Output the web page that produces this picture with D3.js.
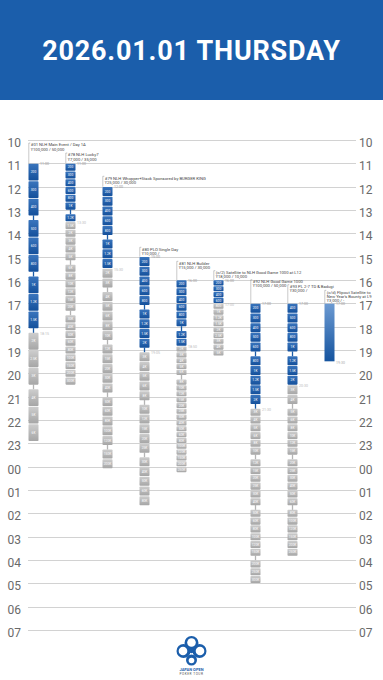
<!DOCTYPE html>
<html>
<head>
<meta charset="utf-8">
<script src="https://cdn.jsdelivr.net/npm/d3@7"></script>
<style>
html, body { margin: 0; padding: 0; background: #fff; }
svg { display: block; }
</style>
</head>
<body>
<div id="chart"></div>
<script>
// day header + hour rows
var dayTitle = '2026.01.01 THURSDAY';
var hourLabels = ['10','11','12','13','14','15','16','17','18','19','20','21','22','23','00','01','02','03','04','05','06','07'];

// events (one column each)
var titles = [
	'#01 NLH Main Event / Day 1A',
	'#78 NLH Lucky7',
	'#79 NLH Whopper+Stack Sponsored by BURGER KING',
	'#80 PLO Single Day',
	'#81 NLH Builder',
	'(c/2) Satellite to NLH Good Game 1000 at L12',
	'#92 NLH Good Game 1000',
	'#93 PL 2-7 TD & Badugi',
	'(c/d) Flipout Satellite to\nNew Year\'s Bounty at L9'
];
var fees = ['¥100,000 / 50,000', '¥7,000 / 35,000', '¥25,000 / 30,000', '¥10,000 /', '¥15,000 / 30,000',
	'¥18,000 / 10,000', '¥100,000 / 50,000', '¥30,000 /', '¥3,000 / -'];
var starts = ['11:00', '11:00', '12:00', '15:00', '16:00', '16:00', '17:00', '17:00', '17:00'];
var lateRegs = ['18:15', '13:30', '15:30', '19:05', '18:50', '17:00', '21:30', '20:30', null];
var flipoutEnd = '19:30';

// @n = level minutes, /n = break minutes, other tokens = blind level
var schedules = [
	'@45 200 300 400 /10 500 600 800 /10 1K 1.2K 1.5K /10 2K 2.5K 3K /10 4K 5K 6K',
	'@20 200 300 400 600 800 1K /10 1.2K 1.5K 2K 3K 4K 5K /10 6K 8K 10K 12K 15K 20K /10 30K 40K 50K 60K 80K 100K 150K 200K 300K',
	'@25 200 300 400 600 800 /10 1K 1.2K 1.5K 2K 3K /10 4K 5K 6K 8K 10K /10 12K 15K 20K 30K 40K /10 50K 60K 80K 100K 120K /10 150K 200K',
	'@25 200 300 400 600 800 /10 1K 1.2K 1.5K 2K /10 3K 4K 5K 6K 8K /10 10K 12K 15K 20K 25K /10 30K 40K 50K 60K 80K',
	'@20 200 300 400 600 800 1K /10 1.2K 1.5K @15 2K 3K 4K 5K 6K /10 8K 10K 12K 15K 20K 25K 30K 40K 50K 60K 80K 100K 120K 150K 200K 250K',
	'@15 200 300 400 600 800 1K 1.2K 1.5K 2K 2.5K 3K 4K 5K',
	'@25 200 300 400 500 600 /10 800 1K 1.2K 1.5K 2K /10 @20 3K 4K 5K 6K 8K 10K /10 12K 15K 20K 25K 30K 40K /10 50K 60K 80K 100K 120K 150K /10 200K 250K 300K',
	'@25 400 500 600 800 1K /10 1.2K 1.5K 2K 3K 4K /10 @20 5K 6K 8K 10K 12K 15K /10 20K 25K 30K 40K 50K 60K /10 80K 100K 120K 150K 200K 250K',
	null
];

// layout
var W = 383, H = 680;
var labelLift = [18.3, 8.3, 8.4, 7.4, 16.7, 7.3, 21.6, 16.6, 11];
var blue = '#1b5ca8', grey = '#b4b4b4';

function toHour(s) {
	var p = s.split(':');
	var h = +p[0] + (+p[1]) / 60;
	return h < 10 ? h + 24 : h;
}

var levels = [], breaks = [];
schedules.forEach(function(sched, i) {
	if(!sched) return;
	var t = toHour(starts[i]), mins = 20, prev = null;
	var late = lateRegs[i] ? toHour(lateRegs[i]) : Infinity;
	sched.split(' ').forEach(function(tok) {
		if(tok[0] == '@') mins = +tok.slice(1);
		else if(tok[0] == '/') {
			var b = +tok.slice(1) / 60;
			breaks.push({ col: i, t0: t, t1: t + b, grey: prev.grey });
			t += b;
		} else {
			var d = { col: i, label: tok, t0: t, t1: t + mins / 60, grey: t >= late - 1e-6 };
			levels.push(d);
			prev = d;
			t = d.t1;
		}
	});
});

var svg = d3.select('#chart').append('svg')
	.attr('width', W).attr('height', H)
	.style('font-family', 'Roboto, "Noto Sans", sans-serif');

var defs = svg.append('defs');
function grad(id, c0, c1) {
	var g = defs.append('linearGradient').attr('id', id).attr('x1', 0).attr('y1', 0).attr('x2', 0).attr('y2', 1);
	g.append('stop').attr('offset', '0%').attr('stop-color', c0);
	g.append('stop').attr('offset', '100%').attr('stop-color', c1);
}
grad('gBlue', '#3a75bd', '#14509b');
grad('gGrey', '#cdcdcd', '#a6a6a6');
grad('gFlip', '#6c9ad2', '#15549f');

// header
svg.append('rect').attr('x', 0).attr('y', 0).attr('width', W).attr('height', 100).attr('fill', '#1b5eab');
svg.append('text')
	.attr('x', W / 2).attr('y', 60)
	.attr('text-anchor', 'middle')
	.attr('font-size', '27px').attr('font-weight', 'bold')
	.attr('letter-spacing', '0.8px')
	.attr('fill', '#fff')
	.text(dayTitle);

var y = d3.scaleLinear().domain([10, 31]).range([140, 630]);
var x = d3.scaleBand().domain(d3.range(titles.length)).range([28.5, 334.5]).paddingInner(27 / 37).paddingOuter(0);
var bw = x.bandwidth();

// hour grid
var grid = svg.append('g');
hourLabels.forEach(function(lab, k) {
	var yy = Math.round(y(10 + k)) + 0.5;
	grid.append('line').attr('x1', 28).attr('x2', 356).attr('y1', yy).attr('y2', yy)
		.attr('stroke', '#d2d2d2').attr('stroke-width', 1);
	grid.append('text').attr('x', 21).attr('y', yy + 6).attr('text-anchor', 'end')
		.attr('font-size', '12px').attr('fill', '#6a6a6a').text(lab);
	grid.append('text').attr('x', 359).attr('y', yy + 6).attr('text-anchor', 'start')
		.attr('font-size', '12px').attr('fill', '#6a6a6a').text(lab);
});

var g = svg.append('g');

// breaks (thin connectors)
g.selectAll('line.brk').data(breaks).enter().append('line')
	.attr('class', 'brk')
	.attr('x1', d => x(d.col) + bw / 2).attr('x2', d => x(d.col) + bw / 2)
	.attr('y1', d => y(d.t0) - 0.5).attr('y2', d => y(d.t1) + 0.5)
	.attr('stroke', d => d.grey ? grey : blue).attr('stroke-width', 1.3);

// level blocks
var lv = g.selectAll('g.lv').data(levels).enter().append('g').attr('class', 'lv');
lv.append('rect')
	.attr('x', d => x(d.col)).attr('y', d => y(d.t0) + 0.35)
	.attr('width', bw).attr('height', d => y(d.t1) - y(d.t0) - 0.7)
	.attr('rx', 0.8)
	.attr('fill', d => d.grey ? 'url(#gGrey)' : 'url(#gBlue)');
lv.append('text')
	.attr('x', d => x(d.col) + bw / 2).attr('y', d => (y(d.t0) + y(d.t1)) / 2 + 1.1)
	.attr('text-anchor', 'middle').attr('font-size', '3.2px').attr('fill', '#fff')
	.text(d => d.label);

// flipout satellite block
var fi = 8;
g.append('rect')
	.attr('x', x(fi)).attr('y', y(toHour(starts[fi])) + 0.35)
	.attr('width', bw).attr('height', y(toHour(flipoutEnd)) - y(toHour(starts[fi])) - 0.7)
	.attr('fill', 'url(#gFlip)');
g.append('text')
	.attr('x', x(fi) + bw + 1.5).attr('y', y(toHour(flipoutEnd)) + 2.8)
	.attr('font-size', '3.6px').attr('fill', '#aaa').text(flipoutEnd);

// time notes: start + late registration
titles.forEach(function(t, i) {
	var top = y(toHour(starts[i]));
	g.append('text').attr('x', x(i) + bw + 1.5).attr('y', top + 1.6)
		.attr('font-size', '3.6px').attr('fill', '#999').text(starts[i]);
	if(lateRegs[i] && lateRegs[i] != starts[i]) {
		g.append('text').attr('x', x(i) + bw + 1.5).attr('y', y(toHour(lateRegs[i])) + 2.2)
			.attr('font-size', '3.6px').attr('fill', '#bbb').text(lateRegs[i]);
	} else if(lateRegs[i]) {
		g.append('text').attr('x', x(i) + bw + 1.5).attr('y', y(toHour(lateRegs[i])) + 0.35 + 4 * 5.83 + 2.2)
			.attr('font-size', '3.6px').attr('fill', '#bbb').text(lateRegs[i]);
	}

	// event label with bracket
	var lines = t.split('\n').concat([fees[i]]);
	var y0 = top - labelLift[i];
	var lx = x(i);
	g.append('path')
		.attr('d', 'M' + (lx + 0.3) + ',' + (y0 - 2) + 'H' + (lx + 1.8) + 'M' + (lx + 0.3) + ',' + (y0 - 2) + 'V' + top)
		.attr('fill', 'none').attr('stroke', '#777').attr('stroke-width', 0.4);
	lines.forEach(function(s, k) {
		g.append('text').attr('x', lx + 2.3).attr('y', y0 + 1.4 + k * 4.3)
			.attr('font-size', '4.2px').attr('fill', '#444').text(s);
	});
});

// logo
var logo = svg.append('g').attr('transform', 'translate(191.5,652)');
[[0, -9, 7], [-8, -1, 7], [8, -1, 7], [0, 8, 5.5]].forEach(function(c) {
	logo.append('circle').attr('cx', c[0]).attr('cy', c[1]).attr('r', c[2]).attr('fill', '#1b5eab');
});
[[0, -9.5, 4.3], [-8.5, -1, 4.3], [8.5, -1, 4.3], [0, 8.5, 2.8]].forEach(function(c) {
	logo.append('circle').attr('cx', c[0]).attr('cy', c[1]).attr('r', c[2]).attr('fill', '#fff');
});
logo.append('circle').attr('cx', 0).attr('cy', -1).attr('r', 2.2).attr('fill', '#1b5eab');
logo.append('text').attr('x', 0).attr('y', 18.5).attr('text-anchor', 'middle')
	.attr('font-size', '4px').attr('font-weight', 'bold').attr('fill', '#1b5eab').text('JAPAN OPEN');
logo.append('text').attr('x', 0).attr('y', 22.5).attr('text-anchor', 'middle')
	.attr('font-size', '3.2px').attr('letter-spacing', '0.5px').attr('fill', '#555').text('POKER TOUR');
</script>
</body>
</html>
